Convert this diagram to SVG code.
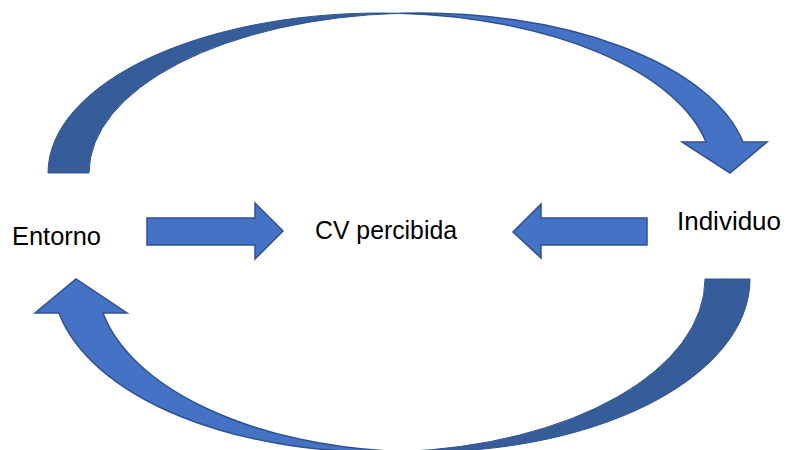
<svg xmlns="http://www.w3.org/2000/svg" width="787" height="450" viewBox="0 0 787 450">
<style>
.lbl{font-family:"Liberation Sans",Arial,sans-serif;font-size:25px;fill:#000}
.front{fill:#4472C4;stroke:#2F528F;stroke-width:1.5;stroke-linejoin:miter}
.back{fill:#365C9A;stroke:#2F528F;stroke-width:1;stroke-linejoin:miter}
</style>
<rect width="787" height="450" fill="#fff"/>
<g id="connectors">
<g id="arrow-top">
<path class="back" d="M48,173 A332,160 0 0 1 399.6,13.3 A330,160 0 0 0 89,173 Z"/>
<path class="front" d="M399.6,13.3 A330,160 0 0 1 743,142 L767,142 L730,173 L682,142 L706,142 A332,160 0 0 0 399.6,13.3 Z"/>
</g>
<g id="arrow-bottom">
<path class="back" d="M750,279 A326.7,173 0 0 1 401,451.6 A326.2,173 0 0 0 705,279 Z"/>
<path class="front" d="M401,451.6 A326.2,173 0 0 1 59,313 L35,313 L76,279 L127,313 L103,313 A326.7,173 0 0 0 401,451.6 Z"/>
</g>
<path id="arrow-right" class="front" d="M147,218 L255,218 L255,203 L283,231 L255,259 L255,245 L147,245 Z"/>
<path id="arrow-left" class="front" d="M647,218 L541,218 L541,204 L513,232 L541,258 L541,245 L647,245 Z"/>
</g>
<g id="node-entorno"><text class="lbl" x="12" y="245" textLength="89" lengthAdjust="spacingAndGlyphs">Entorno</text></g>
<g id="node-cv"><text class="lbl" x="315" y="239" textLength="142" lengthAdjust="spacingAndGlyphs">CV percibida</text></g>
<g id="node-individuo"><text class="lbl" x="677" y="230" textLength="104" lengthAdjust="spacingAndGlyphs">Individuo</text></g>
</svg>
